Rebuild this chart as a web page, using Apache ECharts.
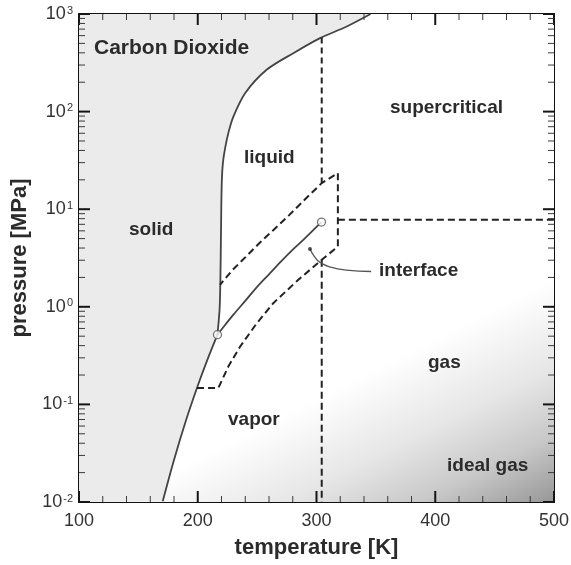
<!DOCTYPE html>
<html>
<head>
<meta charset="utf-8">
<script src="https://cdn.jsdelivr.net/npm/echarts@6/dist/echarts.min.js"></script>
<style>
  html, body { margin: 0; padding: 0; background: #fff; }
  #chart { width: 571px; height: 565px; }
</style>
</head>
<body>
<div id="chart"></div>
<script>
// CO2 phase diagram: temperature [K] vs pressure [MPa] (log scale)

// Phase boundaries [T (K), p (MPa)]
const sublimationCurve = [[170.5, 0.0102], [180, 0.027], [190, 0.068], [200, 0.155], [208, 0.284], [216.6, 0.518]];
const meltingCurve = [[216.6, 0.518], [218.5, 1.0], [219.3, 3], [219.8, 10], [220.3, 20], [221.2, 30], [223, 42], [226, 62], [230, 89], [240, 155], [258, 268], [280.5, 397], [303, 566], [325, 740], [345.5, 1000]];
const vaporCurve = [[216.6, 0.518], [220, 0.585], [230, 0.83], [240, 1.15], [250, 1.6], [260, 2.15], [270, 2.9], [280, 3.85], [290, 5.0], [300, 6.6], [304.2, 7.38]];

// Special points
const triplePoint = [216.6, 0.518];
const criticalPoint = [304.2, 7.38];

// Dashed envelope around the vapor-liquid interface
const interfaceEnvelope = [[199.4, 0.147], [217.3, 0.147], [226, 0.248], [235.6, 0.39], [249, 0.66], [263.6, 1.09], [284, 1.86], [304.4, 3.03], [318, 4.15], [318, 23.4], [304.4, 18.5], [290, 12.5], [277, 8.7], [263.6, 6.1], [252, 4.5], [241, 3.3], [229.5, 2.4], [218.7, 1.68]];
// Critical isotherm (two pieces) and critical isobar
const isothermUpper = [[304.4, 576], [304.4, 18.5]];
const isothermLower = [[304.4, 3.03], [304.4, 0.01]];
const isobar = [[318, 7.8], [500, 7.8]];
// Leader line for the "interface" label
const interfaceLeader = [[294.5, 3.9], [298, 3.3], [303, 2.85], [312, 2.55], [325, 2.38], [346, 2.3]];

// Axes
const tempTicks = [100, 200, 300, 400, 500];
const tempMinorStep = 20;
const pressureDecades = [0.01, 0.1, 1, 10, 100, 1000];
const pressureRange = [pressureDecades[0], pressureDecades[pressureDecades.length - 1]];
const tMin = tempTicks[0], tMax = tempTicks[tempTicks.length - 1];

// Tick marks: [axis ('x' | 'y'), value, isMajor]
const tickMarks = [];
tempTicks.forEach(function (t) { tickMarks.push(['x', t, 1]); });
for (let t = tMin + tempMinorStep; t < tMax; t += tempMinorStep) {
  if (t % 100 !== 0) tickMarks.push(['x', t, 0]);
}
pressureDecades.forEach(function (p, i) {
  tickMarks.push(['y', p, 1]);
  if (i < pressureDecades.length - 1) {
    for (let m = 2; m <= 9; m++) tickMarks.push(['y', m * p, 0]);
  }
});

// Region labels
const regionLabels = [
  { text: 'Carbon Dioxide', x: 94, y: 48, size: 21 },
  { text: 'supercritical', x: 390, y: 108, size: 19 },
  { text: 'liquid', x: 244, y: 158, size: 19 },
  { text: 'solid', x: 129, y: 230, size: 19 },
  { text: 'interface', x: 379, y: 271, size: 19 },
  { text: 'vapor', x: 228, y: 420, size: 19 },
  { text: 'gas', x: 428, y: 363, size: 19 },
  { text: 'ideal gas', x: 447, y: 466, size: 19 }
];

const FONT = '"Liberation Sans", Arial, Helvetica, sans-serif';
const INK = '#2b2b2b';
const CURVE = '#444';

const chart = echarts.init(document.getElementById('chart'), null, { renderer: 'canvas' });

const solidPolygon = [[tMin, pressureRange[0]]]
  .concat(sublimationCurve)
  .concat(meltingCurve.slice(1))
  .concat([[tMin, pressureRange[1]]]);

const axisCommon = {
  axisLine: { show: true, onZero: false, lineStyle: { color: '#111', width: 2 } },
  axisTick: { show: false },
  splitLine: { show: false }
};

const option = {
  animation: false,
  backgroundColor: '#fff',
  grid: { left: 79, right: 17, top: 14, bottom: 63, containLabel: false, outerBoundsMode: 'none' },
  xAxis: [
    Object.assign({}, axisCommon, {
      type: 'value', min: tMin, max: tMax, interval: 100,
      position: 'bottom',
      axisLabel: { fontSize: 18, color: '#333', fontFamily: FONT, margin: 10 },
      name: 'temperature [K]', nameLocation: 'middle', nameGap: 35,
      nameTextStyle: { fontSize: 22, fontWeight: 'bold', color: INK, fontFamily: FONT }
    }),
    Object.assign({}, axisCommon, {
      type: 'value', min: tMin, max: tMax, interval: 100,
      position: 'top',
      axisLabel: { show: false }
    })
  ],
  yAxis: [
    Object.assign({}, axisCommon, {
      type: 'log', logBase: 10, min: pressureRange[0], max: pressureRange[1],
      position: 'left',
      axisLabel: {
        margin: 6, fontFamily: FONT, color: '#333',
        formatter: function (v) {
          const e = Math.round(Math.log10(v));
          return '{b|10}{e|' + e + '}';
        },
        rich: {
          b: { fontSize: 18, color: '#333', fontFamily: FONT },
          e: { fontSize: 11, color: '#333', fontFamily: FONT, verticalAlign: 'top', padding: [0, 0, 0, 1] }
        }
      },
      name: 'pressure [MPa]', nameLocation: 'middle', nameGap: 37, nameRotate: 90,
      nameTextStyle: { fontSize: 22, fontWeight: 'bold', color: INK, fontFamily: FONT }
    }),
    Object.assign({}, axisCommon, {
      type: 'log', logBase: 10, min: pressureRange[0], max: pressureRange[1],
      position: 'right',
      axisLabel: { show: false }
    })
  ],
  graphic: regionLabels.map(function (l) {
    return {
      type: 'text', x: l.x, y: l.y, z: 100,
      style: { text: l.text, fill: INK, font: 'bold ' + l.size + 'px ' + FONT, align: 'left', verticalAlign: 'middle' }
    };
  }),
  series: [
    // gas region shading, darkening toward low pressure / high temperature
    {
      type: 'custom', z: 1, silent: true, clip: true,
      data: [[tMax, pressureRange[0]]],
      renderItem: function (params, api) {
        const bl = api.coord([tMin, pressureRange[0]]);
        const br = api.coord([tMax, pressureRange[0]]);
        const tr = api.coord([tMax, pressureRange[1]]);
        const tl = api.coord([tMin, pressureRange[1]]);
        const grad = new echarts.graphic.LinearGradient(br[0], br[1], br[0] - 90, br[1] - 178, [
          { offset: 0, color: '#979797' },
          { offset: 0.3, color: '#c8c8c8' },
          { offset: 0.6, color: '#e6e6e6' },
          { offset: 1, color: '#ffffff' }
        ], true);
        return { type: 'polygon', shape: { points: [bl, br, tr, tl] }, style: { fill: grad } };
      }
    },
    // solid region shading
    {
      type: 'custom', z: 2, silent: true, clip: true,
      data: [[tMin, pressureRange[0]]],
      renderItem: function (params, api) {
        return {
          type: 'polygon',
          shape: { points: solidPolygon.map(function (d) { return api.coord(d); }) },
          style: { fill: '#ebebeb' }
        };
      }
    },
    // inward tick marks on all four sides of the frame
    {
      type: 'custom', z: 20, silent: true, clip: false,
      data: tickMarks.map(function (d) { return d[0] === 'x' ? [d[1], pressureRange[0], d[2], 0] : [tMin, d[1], d[2], 1]; }),
      renderItem: function (params, api) {
        const major = api.value(2) === 1;
        const len = major ? 11 : 6;
        const st = { stroke: major ? '#151515' : '#3a3a3a', lineWidth: major ? 2 : 1 };
        if (api.value(3) === 0) {
          const t = api.value(0);
          const b = api.coord([t, pressureRange[0]]);
          const tp = api.coord([t, pressureRange[1]]);
          return {
            type: 'group', children: [
              { type: 'line', shape: { x1: b[0], y1: b[1], x2: b[0], y2: b[1] - len }, style: st },
              { type: 'line', shape: { x1: tp[0], y1: tp[1], x2: tp[0], y2: tp[1] + len }, style: st }
            ]
          };
        }
        const p = api.value(1);
        const l = api.coord([tMin, p]);
        const r = api.coord([tMax, p]);
        return {
          type: 'group', children: [
            { type: 'line', shape: { x1: l[0], y1: l[1], x2: l[0] + len, y2: l[1] }, style: st },
            { type: 'line', shape: { x1: r[0], y1: r[1], x2: r[0] - len, y2: r[1] }, style: st }
          ]
        };
      }
    },
    { type: 'line', z: 6, data: sublimationCurve, smooth: 0.3, showSymbol: false, lineStyle: { color: CURVE, width: 1.8 } },
    { type: 'line', z: 6, data: meltingCurve, smooth: 0.3, showSymbol: false, lineStyle: { color: CURVE, width: 1.8 } },
    { type: 'line', z: 6, data: vaporCurve, smooth: 0.3, showSymbol: false, lineStyle: { color: CURVE, width: 1.8 } },
    { type: 'line', z: 7, data: interfaceEnvelope, showSymbol: false, lineStyle: { color: '#222', width: 2, type: [7, 4] } },
    { type: 'line', z: 7, data: isothermUpper, showSymbol: false, lineStyle: { color: '#222', width: 2, type: [6, 4] } },
    { type: 'line', z: 7, data: isothermLower, showSymbol: false, lineStyle: { color: '#222', width: 2, type: [7, 4] } },
    { type: 'line', z: 7, data: isobar, showSymbol: false, lineStyle: { color: '#222', width: 2, type: [7, 4] } },
    { type: 'line', z: 7, data: interfaceLeader, smooth: 0.5, showSymbol: false, lineStyle: { color: '#555', width: 1.3 } },
    { type: 'scatter', z: 8, data: [interfaceLeader[0]], symbol: 'circle', symbolSize: 4, itemStyle: { color: '#222' } },
    { type: 'scatter', z: 9, data: [triplePoint, criticalPoint], symbol: 'circle', symbolSize: 8,
      itemStyle: { color: '#fff', borderColor: '#555', borderWidth: 1.3 } }
  ]
};

chart.setOption(option);
</script>
</body>
</html>
